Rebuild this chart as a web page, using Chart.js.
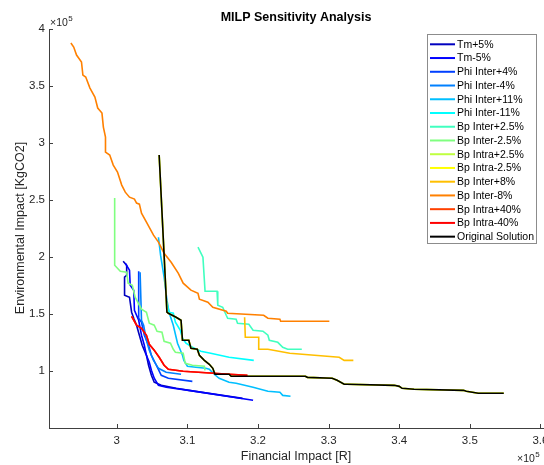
<!DOCTYPE html>
<html>
<head>
<meta charset="utf-8">
<script src="https://cdn.jsdelivr.net/npm/chart.js@4.4.1/dist/chart.umd.min.js"></script>
<style>
  html, body { margin: 0; padding: 0; background: #ffffff; }
  #wrap { width: 544px; height: 465px; }
</style>
</head>
<body>
<div id="wrap"><canvas id="sensitivity" width="544" height="465"></canvas></div>
<script>
// All values in units of 1e5 (the axes show x10^5)
const SCALE = 1e5;

const seriesLabels = [
  "Tm+5%", "Tm-5%", "Phi Inter+4%", "Phi Inter-4%", "Phi Inter+11%", "Phi Inter-11%",
  "Bp Inter+2.5%", "Bp Inter-2.5%", "Bp Intra+2.5%", "Bp Intra-2.5%",
  "Bp Inter+8%", "Bp Inter-8%", "Bp Intra+40%", "Bp Intra-40%", "Original Solution"
];

// jet(14) + black
const seriesColors = [
  "#0000bf", "#0000ff", "#0040ff", "#0080ff", "#00bfff", "#00ffff",
  "#40ffbf", "#80ff80", "#bfff40", "#ffff00",
  "#ffbf00", "#ff8000", "#ff4000", "#ff0000", "#000000"
];

const tmPlus5X = [3.009, 3.014, 3.014, 3.011, 3.011, 3.018, 3.021, 3.024, 3.028, 3.032, 3.036, 3.042, 3.045, 3.049, 3.053, 3.063, 3.084, 3.102, 3.178];
const tmPlus5Y = [1.965, 1.930, 1.842, 1.825, 1.667, 1.649, 1.518, 1.465, 1.404, 1.316, 1.228, 1.140, 1.053, 0.965, 0.904, 0.877, 0.851, 0.833, 0.763];

const tmMinus5X = [3.012, 3.018, 3.019, 3.024, 3.025, 3.031, 3.035, 3.039, 3.042, 3.046, 3.049, 3.053, 3.059, 3.070, 3.102, 3.193];
const tmMinus5Y = [1.947, 1.886, 1.754, 1.711, 1.535, 1.447, 1.316, 1.228, 1.140, 1.079, 1.009, 0.939, 0.877, 0.860, 0.833, 0.746];

const phiPlus4X = [3.031, 3.031, 3.035, 3.039, 3.045, 3.049, 3.056, 3.063, 3.073, 3.107];
const phiPlus4Y = [1.877, 1.465, 1.430, 1.316, 1.228, 1.140, 1.053, 0.965, 0.939, 0.912];

const phiMinus4X = [3.033, 3.035, 3.038, 3.042, 3.046, 3.052, 3.059, 3.070, 3.091];
const phiMinus4Y = [1.868, 1.447, 1.404, 1.272, 1.184, 1.096, 1.026, 0.991, 0.974];

const phiPlus11X = [3.059, 3.062, 3.067, 3.071, 3.074, 3.080, 3.086, 3.093, 3.095, 3.100, 3.112, 3.126, 3.131, 3.138, 3.145, 3.159, 3.169, 3.193, 3.214, 3.231, 3.235, 3.246];
const phiPlus11Y = [2.175, 2.018, 1.825, 1.623, 1.518, 1.404, 1.246, 1.140, 1.096, 1.044, 1.035, 1.026, 1.018, 0.974, 0.939, 0.904, 0.895, 0.860, 0.825, 0.816, 0.789, 0.781];

const phiMinus11X = [3.071, 3.074, 3.080, 3.083, 3.090, 3.093, 3.098, 3.107, 3.119, 3.133, 3.159, 3.194];
const phiMinus11Y = [1.596, 1.518, 1.509, 1.430, 1.360, 1.289, 1.246, 1.211, 1.175, 1.158, 1.123, 1.096];

const bpInterPlus25X = [3.115, 3.122, 3.125, 3.142, 3.143, 3.150, 3.155, 3.157, 3.169, 3.171, 3.187, 3.193, 3.207, 3.214, 3.216, 3.228, 3.235, 3.242, 3.262];
const bpInterPlus25Y = [2.088, 2.000, 1.702, 1.702, 1.579, 1.561, 1.491, 1.465, 1.456, 1.421, 1.412, 1.360, 1.351, 1.316, 1.272, 1.254, 1.211, 1.193, 1.193];

const bpInterMinus25X = [2.997, 2.997, 3.005, 3.014, 3.016, 3.022, 3.026, 3.035, 3.042, 3.046, 3.053, 3.057, 3.064, 3.067, 3.076, 3.080, 3.083, 3.094, 3.097, 3.107, 3.124, 3.125];
const bpInterMinus25Y = [2.518, 1.930, 1.877, 1.868, 1.772, 1.754, 1.649, 1.544, 1.518, 1.421, 1.404, 1.351, 1.342, 1.263, 1.246, 1.193, 1.167, 1.158, 1.070, 1.053, 1.044, 1.009];

const bpInterPlus8X = [3.181, 3.182, 3.201, 3.201, 3.214, 3.245, 3.315, 3.322, 3.335];
const bpInterPlus8Y = [1.474, 1.298, 1.298, 1.193, 1.193, 1.158, 1.123, 1.096, 1.096];

const bpInterMinus8X = [2.935, 2.939, 2.943, 2.950, 2.952, 2.956, 2.962, 2.969, 2.973, 2.979, 2.981, 2.984, 2.984, 2.990, 2.995, 3.001, 3.007, 3.012, 3.018, 3.025, 3.028, 3.032, 3.035, 3.042, 3.052, 3.059, 3.067, 3.077, 3.087, 3.094, 3.105, 3.115, 3.117, 3.129, 3.136, 3.155, 3.157, 3.208, 3.214, 3.231, 3.232, 3.301];
const bpInterMinus8Y = [3.877, 3.842, 3.772, 3.711, 3.596, 3.579, 3.482, 3.404, 3.307, 3.263, 3.140, 3.053, 2.921, 2.895, 2.807, 2.746, 2.632, 2.570, 2.526, 2.509, 2.474, 2.465, 2.386, 2.307, 2.193, 2.132, 2.035, 1.956, 1.860, 1.772, 1.711, 1.684, 1.632, 1.605, 1.561, 1.526, 1.509, 1.491, 1.465, 1.456, 1.439, 1.439];

const bpIntraMinus40X = [3.021, 3.028, 3.035, 3.042, 3.046, 3.053, 3.060, 3.067, 3.073, 3.094, 3.159, 3.185];
const bpIntraMinus40Y = [1.482, 1.404, 1.377, 1.316, 1.237, 1.184, 1.123, 1.053, 1.018, 1.000, 0.974, 0.965];

const originalX = [3.060, 3.071, 3.073, 3.084, 3.091, 3.093, 3.102, 3.105, 3.114, 3.117, 3.124, 3.131, 3.136, 3.139, 3.159, 3.162, 3.267, 3.270, 3.305, 3.312, 3.322, 3.326, 3.393, 3.400, 3.404, 3.421, 3.491, 3.495, 3.512, 3.548];
const originalY = [2.895, 1.518, 1.509, 1.474, 1.447, 1.272, 1.272, 1.202, 1.193, 1.140, 1.096, 1.061, 1.026, 0.974, 0.974, 0.956, 0.956, 0.947, 0.939, 0.921, 0.886, 0.886, 0.877, 0.868, 0.851, 0.842, 0.833, 0.825, 0.807, 0.807];

// Bp Intra +/-2.5% lie under the original solution, Bp Intra+40% under Bp Intra-40%
const seriesX = [tmPlus5X, tmMinus5X, phiPlus4X, phiMinus4X, phiPlus11X, phiMinus11X,
  bpInterPlus25X, bpInterMinus25X, originalX, originalX,
  bpInterPlus8X, bpInterMinus8X, bpIntraMinus40X, bpIntraMinus40X, originalX];
const seriesY = [tmPlus5Y, tmMinus5Y, phiPlus4Y, phiMinus4Y, phiPlus11Y, phiMinus11Y,
  bpInterPlus25Y, bpInterMinus25Y, originalY, originalY,
  bpInterPlus8Y, bpInterMinus8Y, bpIntraMinus40Y, bpIntraMinus40Y, originalY];

const xTickLabels = ["3", "3.1", "3.2", "3.3", "3.4", "3.5", "3.6"];
const yTickLabels = ["1", "1.5", "2", "2.5", "3", "3.5", "4"];

const FONT = "'Liberation Sans', Arial, Helvetica, sans-serif";
const TEXT = "#262626";

// Build datasets; later ones drawn on top like in MATLAB
const datasets = seriesLabels.map((label, i) => ({
  label: label,
  data: seriesX[i].map((x, k) => ({ x: x * SCALE, y: seriesY[i][k] * SCALE })),
  borderColor: seriesColors[i],
  backgroundColor: seriesColors[i],
  borderWidth: 1.6,
  pointRadius: 0,
  showLine: true,
  fill: false,
  order: seriesLabels.length - i,
}));

function drawExponent(ctx, x, y) {
  ctx.font = "10.5px " + FONT;
  ctx.textAlign = "left";
  ctx.textBaseline = "alphabetic";
  ctx.fillText("\u00d710", x, y);
  const w = ctx.measureText("\u00d710").width;
  ctx.font = "8px " + FONT;
  ctx.fillText("5", x + w + 0.5, y - 5);
}

// Title, axis labels, inward ticks, exponents and legend box
const matlabDecor = {
  id: "matlabDecor",
  afterDatasetsDraw(chart) {
    const { ctx, chartArea, scales } = chart;
    ctx.save();
    ctx.strokeStyle = "#404040";
    ctx.lineWidth = 1;
    scales.x.ticks.forEach((t) => {
      const px = Math.round(scales.x.getPixelForValue(t.value)) + 0.5;
      ctx.beginPath();
      ctx.moveTo(px, chartArea.bottom);
      ctx.lineTo(px, chartArea.bottom - 4);
      ctx.stroke();
    });
    scales.y.ticks.forEach((t) => {
      const py = Math.round(scales.y.getPixelForValue(t.value)) + 0.5;
      ctx.beginPath();
      ctx.moveTo(chartArea.left, py);
      ctx.lineTo(chartArea.left + 4, py);
      ctx.stroke();
    });

    ctx.fillStyle = "#000000";
    ctx.font = "bold 12.5px " + FONT;
    ctx.textAlign = "center";
    ctx.textBaseline = "middle";
    ctx.fillText("MILP Sensitivity Analysis", 296, 18);

    ctx.fillStyle = TEXT;
    ctx.font = "12.5px " + FONT;
    ctx.fillText("Financial Impact [R]", 296, 457);

    ctx.save();
    ctx.translate(21, 228);
    ctx.rotate(-Math.PI / 2);
    ctx.fillText("Environmental Impact [KgCO2]", 0, 0);
    ctx.restore();

    drawExponent(ctx, 50, 26);
    drawExponent(ctx, 517, 462);

    // legend
    const lx = 427.5, ly = 34.5, lw = 109, lh = 209;
    ctx.fillStyle = "#ffffff";
    ctx.fillRect(lx, ly, lw, lh);
    ctx.strokeStyle = "#8c8c8c";
    ctx.strokeRect(lx, ly, lw, lh);
    ctx.font = "10.5px " + FONT;
    ctx.textAlign = "left";
    ctx.textBaseline = "middle";
    seriesLabels.forEach((label, i) => {
      const cy = 44.3 + i * 13.74;
      ctx.strokeStyle = seriesColors[i];
      ctx.lineWidth = 2;
      ctx.beginPath();
      ctx.moveTo(430, cy);
      ctx.lineTo(455, cy);
      ctx.stroke();
      ctx.fillStyle = "#000000";
      ctx.fillText(label, 457, cy + 0.5);
    });
    ctx.restore();
  },
};

new Chart(document.getElementById("sensitivity"), {
  type: "scatter",
  data: { datasets: datasets },
  options: {
    responsive: false,
    animation: false,
    events: [],
    layout: { padding: { top: 29, left: 0, right: 0, bottom: 0 } },
    plugins: {
      legend: { display: false },
      title: { display: false },
      tooltip: { enabled: false },
    },
    scales: {
      x: {
        type: "linear",
        min: 2.904 * SCALE,
        max: 3.605 * SCALE,
        grid: { display: false, drawTicks: false },
        border: { display: true, color: "#404040", width: 1 },
        afterBuildTicks: (s) => {
          s.ticks = xTickLabels.map((l) => ({ value: parseFloat(l) * SCALE }));
        },
        ticks: {
          autoSkip: false,
          maxRotation: 0,
          padding: 6,
          color: TEXT,
          font: { family: FONT, size: 11.5 },
          callback: (v, i) => xTickLabels[i],
        },
        afterFit: (s) => { s.height = 37; s.paddingLeft = 0; s.paddingRight = 0; },
      },
      y: {
        type: "linear",
        min: 0.503 * SCALE,
        max: 4 * SCALE,
        grid: { display: false, drawTicks: false },
        border: { display: true, color: "#404040", width: 1 },
        afterBuildTicks: (s) => {
          s.ticks = yTickLabels.map((l) => ({ value: parseFloat(l) * SCALE }));
        },
        ticks: {
          autoSkip: false,
          padding: 4,
          color: TEXT,
          font: { family: FONT, size: 11.5 },
          callback: (v, i) => yTickLabels[i],
        },
        afterFit: (s) => { s.width = 49; s.paddingTop = 0; s.paddingBottom = 0; },
      },
    },
  },
  plugins: [matlabDecor],
});
</script>
</body>
</html>
